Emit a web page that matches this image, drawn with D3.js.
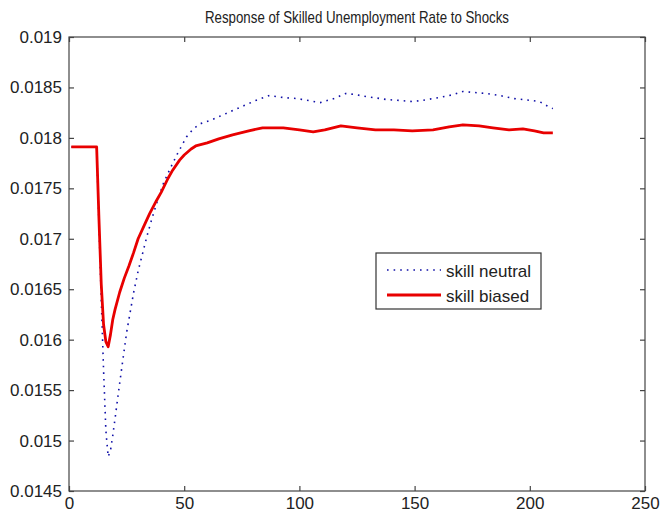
<!DOCTYPE html>
<html>
<head>
<meta charset="utf-8">
<script src="https://cdn.jsdelivr.net/npm/d3@7"></script>
<style>
  html, body { margin: 0; padding: 0; background: #fff; }
  svg { display: block; }
  text { font-family: "Liberation Sans", Arial, sans-serif; fill: #222; }
</style>
</head>
<body>
<svg id="chart" width="660" height="514"></svg>
<script>
// Period index (x) and unemployment rate (y) for each scenario
const neutralT = [1, 12, 13, 14, 15, 16, 17, 18, 19, 20, 22, 25, 28, 30, 32, 34, 36, 38, 41, 44, 47, 51, 54, 57, 62, 66, 70, 76, 81, 87, 93, 99, 104, 109, 115, 120, 124, 129, 138, 144, 149, 153, 158, 163, 167, 171, 176, 181, 187, 193, 197, 201, 204, 206, 208, 210];
const neutralV = [0.01791, 0.01791, 0.01715, 0.01640, 0.01570, 0.01510, 0.01484, 0.01490, 0.01505, 0.01522, 0.01557, 0.01607, 0.01646, 0.01668, 0.01686, 0.01704, 0.01720, 0.01735, 0.01755, 0.01770, 0.01784, 0.01801, 0.01809, 0.01814, 0.01818, 0.01822, 0.01826, 0.01832, 0.01837, 0.01842, 0.01840, 0.01839, 0.01837, 0.01835, 0.01839, 0.01844, 0.01843, 0.01841, 0.01838, 0.01837, 0.01836, 0.01837, 0.01839, 0.01841, 0.01843, 0.01846, 0.01845, 0.01844, 0.01842, 0.01839, 0.01838, 0.01837, 0.01836, 0.01834, 0.01831, 0.01829];

const biasedT = [1, 12, 13, 14, 15, 16, 17, 18, 19, 20, 22, 24, 26, 28, 30, 33, 35, 38, 40, 43, 45, 48, 50, 53, 55, 60, 65, 71, 78, 84, 93, 100, 106, 111, 118, 125, 133, 141, 149, 158, 165, 171, 178, 184, 191, 197, 202, 206, 210];
const biasedV = [0.01791, 0.01791, 0.01720, 0.01655, 0.01615, 0.01598, 0.01593, 0.01605, 0.01620, 0.01630, 0.01647, 0.01661, 0.01673, 0.01686, 0.01700, 0.01715, 0.01725, 0.01738, 0.01746, 0.01760, 0.01768, 0.01778, 0.01783, 0.01789, 0.01792, 0.01795, 0.01799, 0.01803, 0.01807, 0.01810, 0.01810, 0.01808, 0.01806, 0.01808, 0.01812, 0.01810, 0.01808, 0.01808, 0.01807, 0.01808, 0.01811, 0.01813, 0.01812, 0.01810, 0.01808, 0.01809, 0.01807, 0.01805, 0.01805];

const xTicks = [0, 50, 100, 150, 200, 250];
const yTicks = [0.0145, 0.015, 0.0155, 0.016, 0.0165, 0.017, 0.0175, 0.018, 0.0185, 0.019];
const yTickLabels = ["0.0145", "0.015", "0.0155", "0.016", "0.0165", "0.017", "0.0175", "0.018", "0.0185", "0.019"];
const seriesNames = ["skill neutral", "skill biased"];
const titleText = "Response of Skilled Unemployment Rate to Shocks";

const svg = d3.select("#chart");
const margin = { left: 69, right: 15, top: 37, bottom: 23 };
const W = 660, H = 514;
const x = d3.scaleLinear().domain([0, 250]).range([margin.left, W - margin.right]);
const y = d3.scaleLinear().domain([0.0145, 0.019]).range([H - margin.bottom, margin.top]);

// plot frame
svg.append("rect")
  .attr("x", x(0)).attr("y", y(0.019))
  .attr("width", x(250) - x(0)).attr("height", y(0.0145) - y(0.019))
  .attr("fill", "#fff").attr("stroke", "#444").attr("stroke-width", 1.2);

const tickLen = 5;
function styleAxis(g) {
  g.select(".domain").remove();
  g.selectAll(".tick line").attr("stroke", "#444").attr("stroke-width", 1.2);
  g.selectAll("text").attr("font-size", 17).attr("fill", "#222")
    .style("font-family", '"Liberation Sans", Arial, sans-serif');
}

svg.append("g").attr("transform", `translate(0,${y(0.0145)})`)
  .call(d3.axisBottom(x).tickValues(xTicks).tickSize(-tickLen).tickPadding(6).tickFormat(d3.format("d")))
  .call(styleAxis);
svg.append("g").attr("transform", `translate(0,${y(0.019)})`)
  .call(d3.axisTop(x).tickValues(xTicks).tickSize(-tickLen).tickFormat(""))
  .call(styleAxis);
svg.append("g").attr("transform", `translate(${x(0)},0)`)
  .call(d3.axisLeft(y).tickValues(yTicks).tickSize(-tickLen).tickPadding(7)
    .tickFormat((d, i) => yTickLabels[i]))
  .call(styleAxis);
svg.append("g").attr("transform", `translate(${x(250)},0)`)
  .call(d3.axisRight(y).tickValues(yTicks).tickSize(-tickLen).tickFormat(""))
  .call(styleAxis);

const line = d3.line().x(d => x(d[0])).y(d => y(d[1]));
const neutral = neutralT.map((t, i) => [t, neutralV[i]]);
const biased = biasedT.map((t, i) => [t, biasedV[i]]);

const blue = "#1010a8", red = "#e80000";

svg.append("path").datum(neutral)
  .attr("d", line).attr("fill", "none")
  .attr("stroke", blue).attr("stroke-width", 1.6)
  .attr("stroke-dasharray", "1.6,5");
svg.append("path").datum(biased)
  .attr("d", line).attr("fill", "none")
  .attr("stroke", red).attr("stroke-width", 2.8)
  .attr("stroke-linejoin", "round");

// title
svg.append("text")
  .attr("x", (x(0) + x(250)) / 2).attr("y", 23)
  .attr("text-anchor", "middle").attr("font-size", 17)
  .attr("textLength", 304).attr("lengthAdjust", "spacingAndGlyphs")
  .text(titleText);

// legend
const lg = svg.append("g");
lg.append("rect").attr("x", 376).attr("y", 253).attr("width", 165).attr("height", 56)
  .attr("fill", "#fff").attr("stroke", "#333").attr("stroke-width", 1.2);
const legendRows = [
  { name: seriesNames[0], color: blue, width: 1.6, dash: "1.6,5", yy: 270 },
  { name: seriesNames[1], color: red, width: 2.8, dash: null, yy: 295 }
];
legendRows.forEach(r => {
  lg.append("line").attr("x1", 387).attr("x2", 441).attr("y1", r.yy).attr("y2", r.yy)
    .attr("stroke", r.color).attr("stroke-width", r.width)
    .attr("stroke-dasharray", r.dash);
  lg.append("text").attr("x", 446).attr("y", r.yy + 7)
    .attr("font-size", 17).text(r.name);
});
</script>
</body>
</html>
